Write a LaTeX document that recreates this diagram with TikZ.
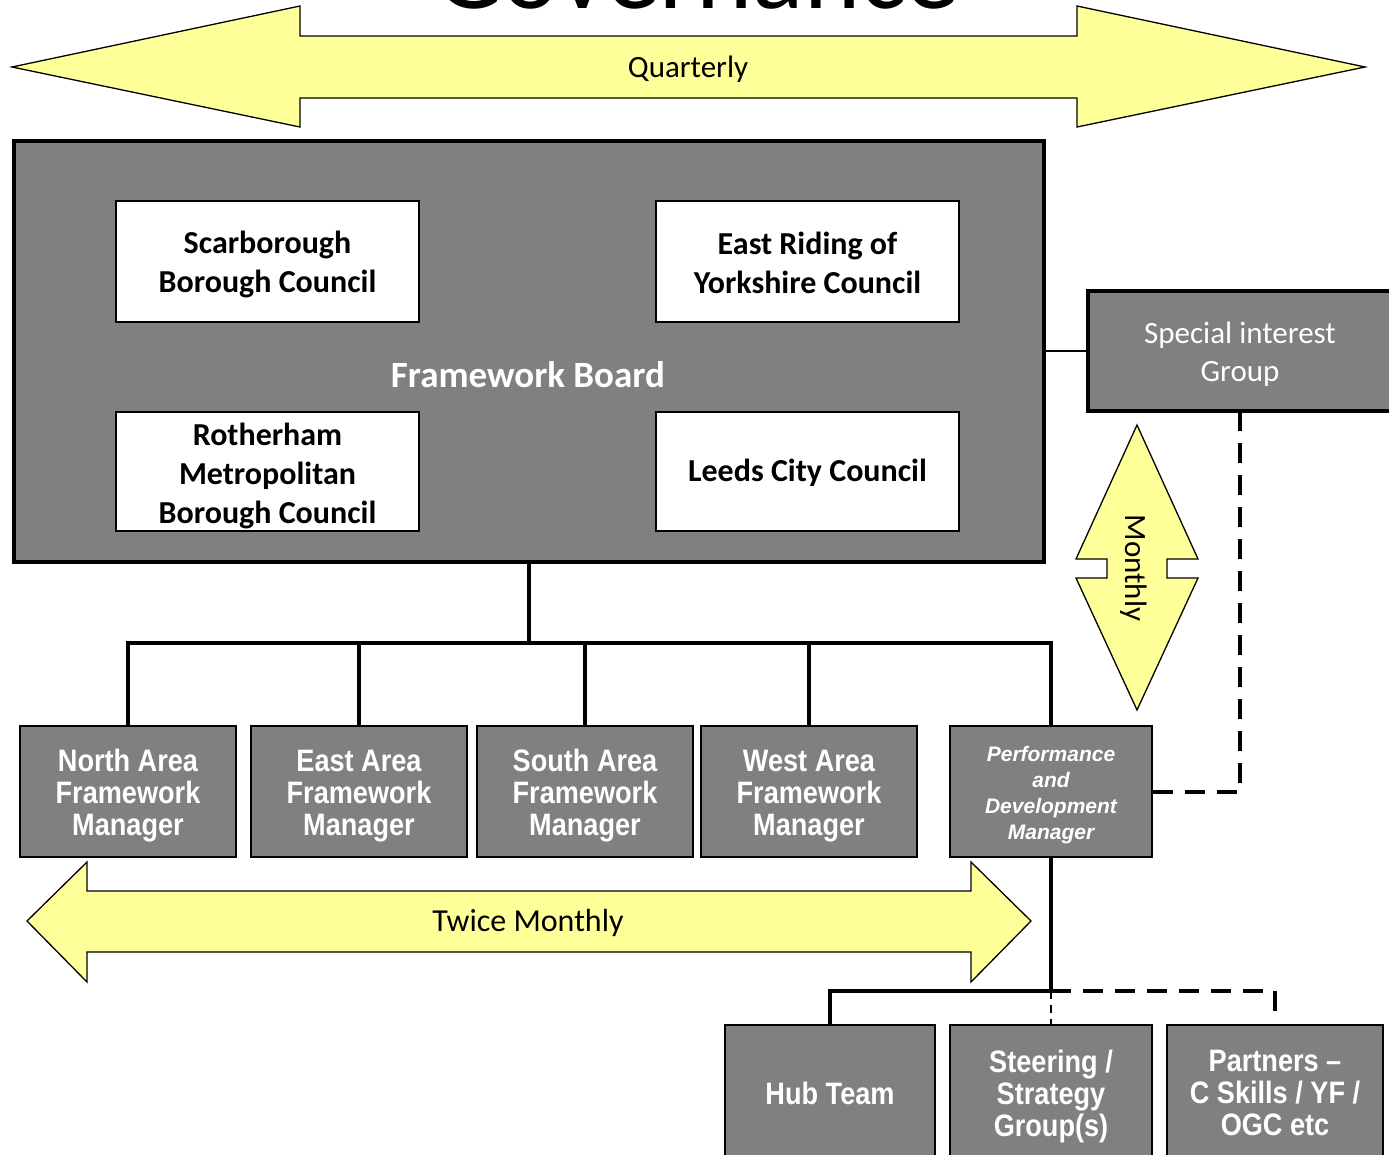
\documentclass[tikz,border=0pt]{standalone}
\usepackage{fontspec}
\setmainfont{Carlito}
\newfontfamily\narrowfont[FakeStretch=0.875]{Liberation Sans}
\newfontfamily\arialfont{Liberation Sans}
\definecolor{boxgray}{HTML}{808080}
\definecolor{ayellow}{HTML}{FFFF99}
\newcommand\mytopstrut[1]{\rule{0pt}{#1}}
\begin{document}
\begin{tikzpicture}[x=1pt,y=-1pt,
  yarrow/.style={draw=black,fill=ayellow,line width=1.3pt,line join=miter},
  board/.style={draw=black,fill=boxgray,line width=4pt,inner sep=0pt},
  council/.style={draw=black,fill=white,line width=1.6pt,inner sep=0pt,align=center,
     font=\bfseries\fontsize{32}{39}\selectfont},
  sigbox/.style={draw=black,fill=boxgray,line width=4.5pt,inner sep=0pt},
  mgr/.style={draw=black,fill=boxgray,line width=1.6pt,inner sep=0pt,align=center,text=white,
     font=\narrowfont\bfseries\fontsize{31}{32}\selectfont},
  perfbox/.style={draw=black,fill=boxgray,line width=1.6pt,inner sep=0pt,align=center,text=white,
     font=\arialfont\bfseries\itshape\fontsize{21}{26}\selectfont},
  lbl/.style={inner sep=0pt,font=\fontsize{31}{36}\selectfont},
  conn/.style={draw=black,line width=3.5pt,line join=miter},
  thinconn/.style={draw=black,line width=1.5pt},
  dconn/.style={draw=black,line width=3.5pt,dash pattern=on 20pt off 12pt},
  tdconn/.style={draw=black,line width=1.5pt,dash pattern=on 8pt off 6pt}
]
\useasboundingbox (0,0) rectangle (1389,1154);
\clip (0,0) rectangle (1389,1154);
\fill[white] (0,0) rectangle (1389,1154);

% title (cut off at top)
\node[anchor=base,inner sep=0pt,font=\fontsize{107}{107}\selectfont] (title) at (697,8) {Governance};

% Quarterly arrow
\draw[yarrow] (12,67) -- (300,6) -- (300,36) -- (1077,36) -- (1077,6) -- (1365,67)
  -- (1077,127) -- (1077,98) -- (300,98) -- (300,127) -- cycle;
\node[lbl] (quarterly) at (688,69) {Quarterly};

% Framework board
\node[board,minimum width=1030pt,minimum height=421pt] (fb) at (529,351.5) {};
\node[inner sep=0pt,text=white,font=\bfseries\fontsize{37}{42}\selectfont] (fblabel) at (528,375) {Framework Board};

\node[council,minimum width=303pt,minimum height=121pt] (scar) at (267.5,261.5) {\mytopstrut{28pt}Scarborough\\Borough Council};
\node[council,minimum width=303pt,minimum height=121pt] (east) at (807.5,261.5) {\mytopstrut{26pt}East Riding of\\Yorkshire Council};
\node[council,minimum width=303pt,minimum height=119pt] (roth) at (267.5,471.5) {\mytopstrut{31pt}Rotherham\\Metropolitan\\Borough Council};
\node[council,minimum width=303pt,minimum height=119pt] (leeds) at (807.5,471.5) {\mytopstrut{25pt}Leeds City Council};

% Special interest group
\node[sigbox,minimum width=312pt,minimum height=120pt] (sig) at (1244,351) {};
\node[inner sep=0pt,align=center,text=white,font=\fontsize{31}{38}\selectfont] (siglabel) at (1240,352)
  {\mytopstrut{26pt}Special interest\\Group};
\draw[thinconn] (fb.east |- sig.west) -- (sig.west);

% Monthly arrow
\draw[yarrow] (1137,425) -- (1198,559) -- (1167,559) -- (1167,578) -- (1198,578) -- (1137,710)
  -- (1076,578) -- (1107,578) -- (1107,559) -- (1076,559) -- cycle;
\node[lbl,rotate=-90] (monthly) at (1134,568) {Monthly};

% Managers
\node[mgr,minimum width=216pt,minimum height=131pt] (north) at (128,791.5) {\mytopstrut{30pt}North Area\\Framework\\Manager};
\node[mgr,minimum width=216pt,minimum height=131pt] (eastm) at (359,791.5) {\mytopstrut{30pt}East Area\\Framework\\Manager};
\node[mgr,minimum width=216pt,minimum height=131pt] (south) at (585,791.5) {\mytopstrut{30pt}South Area\\Framework\\Manager};
\node[mgr,minimum width=216pt,minimum height=131pt] (west) at (809,791.5) {\mytopstrut{30pt}West Area\\Framework\\Manager};
\node[perfbox,minimum width=202pt,minimum height=131pt] (perf) at (1051,791.5) {\mytopstrut{23pt}Performance\\and\\Development\\Manager};

% tree
\coordinate (busL) at (128,643);
\draw[conn] (fb.south) -- (fb.south |- busL);
\draw[conn] (north.north) -- (north.north |- busL) -- (perf.north |- busL) -- (perf.north);
\draw[conn] (eastm.north) -- (eastm.north |- busL);
\draw[conn] (south.north) -- (south.north |- busL);
\draw[conn] (west.north) -- (west.north |- busL);

% dashed from SIG to perf
\coordinate (sigd) at (1240,411);
\coordinate (sigc) at (1240,792);
\draw[dconn] (sigd) -- (sigc) -- (perf.east |- sigc);

% Twice monthly arrow
\draw[yarrow] (27,921) -- (87,862) -- (87,891) -- (971,891) -- (971,862) -- (1031,921)
  -- (971,982) -- (971,952) -- (87,952) -- (87,982) -- cycle;
\node[lbl,font=\fontsize{32}{36}\selectfont] (twice) at (528,923) {Twice Monthly};

% bottom boxes
\node[mgr,minimum width=210pt,minimum height=136pt] (hub) at (830,1093) {Hub Team};
\node[mgr,minimum width=202pt,minimum height=136pt] (steer) at (1051,1093) {\mytopstrut{29pt}Steering /\\Strategy\\Group(s)};
\node[mgr,minimum width=216pt,minimum height=136pt] (partners) at (1275,1093) {Partners –\\C Skills / YF /\\OGC etc};

\coordinate (split) at (1051,991);
\coordinate (pend) at (1275,1012);
\draw[tdconn] (split) -- (steer.north);
\draw[dconn] (split) -- (pend |- split) -- (pend);
\draw[conn] (perf.south) -- (split) -| (hub.north);
\end{tikzpicture}
\end{document}
